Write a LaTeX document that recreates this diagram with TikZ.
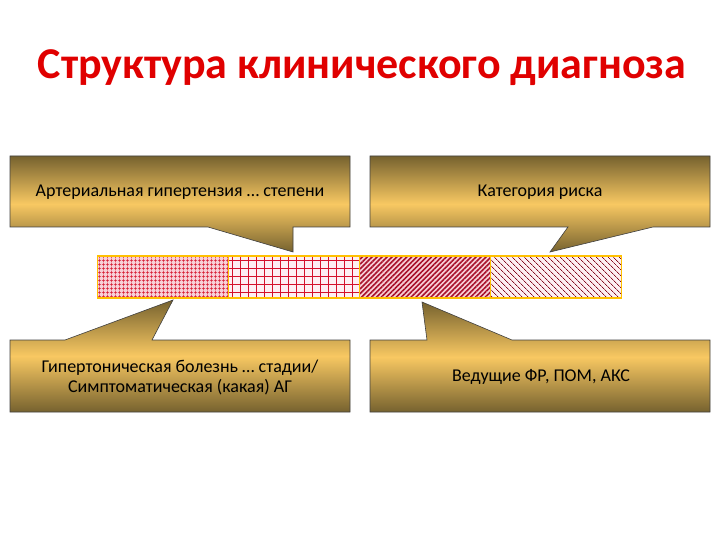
\documentclass[tikz,border=0pt]{standalone}
\usepackage{fontspec}
\setmainfont{Carlito}
\usepackage{tikz}
\usetikzlibrary{patterns.meta,positioning}

\definecolor{titlered}{HTML}{E00000}
\definecolor{calldark}{HTML}{76622F}
\definecolor{calllight}{HTML}{F8C862}
\definecolor{baryellow}{HTML}{FFC000}
\definecolor{gridred}{HTML}{D4102A}
\definecolor{stripered}{HTML}{A8102A}
\definecolor{barpink}{HTML}{F8D0D8}
\definecolor{barpale}{HTML}{FDEFF2}

\begin{document}
\begin{tikzpicture}[x=1pt,y=-1pt,
  callout/.style={top color=calldark, bottom color=calldark, middle color=calllight, draw=black!75, line width=0.6pt},
  calltext/.style={font=\fontsize{18}{20}\selectfont, align=center, text=black},
  barpart/.style={draw=baryellow, line width=1.3pt, minimum width=131pt, minimum height=42pt, outer sep=0pt, inner sep=0pt}]
\useasboundingbox (0,0) rectangle (720,540);

\node[font=\fontsize{44}{52}\selectfont\bfseries, text=titlered] (title) at (362,68) {Структура клинического диагноза};

% bar of four parts
\node[barpart, preaction={fill=barpink}, pattern={Hatch[angle=0,distance=4pt,line width=0.8pt]}, pattern color=gridred] (seg1) at (163,277) {};
\node[barpart, right=0pt of seg1, preaction={fill=barpale}, pattern={Hatch[angle=0,distance=8pt,line width=0.8pt]}, pattern color=gridred] (seg2) {};
\node[barpart, right=0pt of seg2, preaction={fill=barpink}, pattern={Lines[angle=45,distance=3.5pt,line width=1.6pt]}, pattern color=stripered] (seg3) {};
\node[barpart, right=0pt of seg3, preaction={fill=barpale}, pattern={Lines[angle=-45,distance=4pt,line width=0.8pt]}, pattern color=stripered!80!black] (seg4) {};

% callouts
\shade[callout] (10,156) -- (350,156) -- (350,227) -- (293,227) -- (293,252) -- (208,227) -- (10,227) -- cycle;
\shade[callout] (370,156) -- (710,156) -- (710,227) -- (653,227) -- (550,252) -- (568,227) -- (370,227) -- cycle;
\shade[callout] (10,340) -- (65,340) -- (173,300) -- (152,340) -- (350,340) -- (350,412) -- (10,412) -- cycle;
\shade[callout] (370,340) -- (427,340) -- (422,302) -- (512,340) -- (710,340) -- (710,412) -- (370,412) -- cycle;

\node[calltext] (degree) at (180,192) {Артериальная гипертензия … степени};
\node[calltext] (risk) at (540,192) {Категория риска};
\node[calltext] (stage) at (180,377) {Гипертоническая болезнь … стадии/\\Симптоматическая (какая) АГ};
\node[calltext] (factors) at (541,377) {Ведущие ФР, ПОМ, АКС};
\end{tikzpicture}
\end{document}
